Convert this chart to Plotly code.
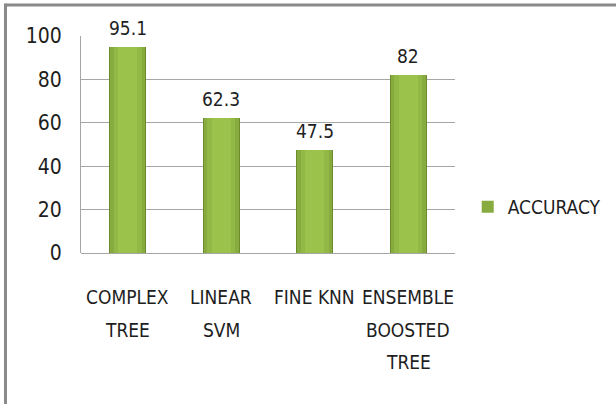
import plotly.graph_objects as go

categories = ["COMPLEX TREE", "LINEAR SVM", "FINE KNN", "ENSEMBLE BOOSTED TREE"]
label_lines = [["COMPLEX", "TREE"], ["LINEAR", "SVM"], ["FINE KNN"], ["ENSEMBLE", "BOOSTED", "TREE"]]
accuracy = [95.1, 62.3, 47.5, 82]
y_ticks = [0, 20, 40, 60, 80, 100]

FONT = "Liberation Sans Narrow, DejaVu Sans Condensed, Arial Narrow, sans-serif"
TXT = "#1e1e1e"

fig = go.Figure()
# layered bars to imitate the shaded (cylinder) look
layers = [(0.40, "#6b8a2b", False), (0.37, "#87ab3e", True), (0.30, "#92b945", False), (0.20, "#9bc34c", False)]
for w, c, show in layers:
    fig.add_trace(go.Bar(
        x=categories, y=accuracy, width=w, name="ACCURACY",
        marker=dict(color=c, line=dict(width=0)),
        showlegend=show, hoverinfo="skip" if not show else None,
    ))

annotations = []
for cat, v in zip(categories, accuracy):
    annotations.append(dict(x=cat, y=v, xref="x", yref="y", text=f"{v:g}",
                            showarrow=False, yanchor="bottom", yshift=6,
                            font=dict(family=FONT, size=19, color=TXT)))
for cat, lines in zip(categories, label_lines):
    for k, line in enumerate(lines):
        annotations.append(dict(x=cat, y=0, xref="x", yref="y", text=line,
                                showarrow=False, yanchor="middle",
                                yshift=-(44 + 32.5 * k),
                                font=dict(family=FONT, size=19, color=TXT)))

shapes = [
    dict(type="line", xref="paper", yref="paper", x0=-0.202, x1=1.5, y0=1.1429, y1=1.1429,
         line=dict(color="#8a8a8a", width=3)),
    dict(type="line", xref="paper", yref="paper", x0=-0.2019, x1=-0.2019, y0=1.1499, y1=-0.75,
         line=dict(color="#8a8a8a", width=3)),
]

fig.update_layout(
    width=616, height=404,
    margin=dict(l=81, r=161, t=36, b=151, autoexpand=False),
    paper_bgcolor="white", plot_bgcolor="white",
    barmode="overlay", bargap=0,
    font=dict(family=FONT, size=21, color=TXT),
    showlegend=True,
    legend=dict(x=1.034, y=0.212, xanchor="left", yanchor="middle", itemwidth=30,
                font=dict(family=FONT, size=19, color=TXT), bgcolor="rgba(0,0,0,0)"),
    annotations=annotations,
    shapes=shapes,
    xaxis=dict(showticklabels=False, showgrid=False, zeroline=False, showline=False,
               ticks="", range=[-0.5, 3.5]),
    yaxis=dict(range=[0, 100], tickvals=y_ticks, ticktext=[str(t) for t in y_ticks],
               showgrid=True, gridcolor="#a6a6a6", gridwidth=1,
               showline=True, linecolor="#a6a6a6", linewidth=1,
               zeroline=True, zerolinecolor="#a6a6a6", zerolinewidth=1,
               ticks="", ticklabelstandoff=14,
               tickfont=dict(family=FONT, size=21, color=TXT)),
)

fig.write_html("out.html")
